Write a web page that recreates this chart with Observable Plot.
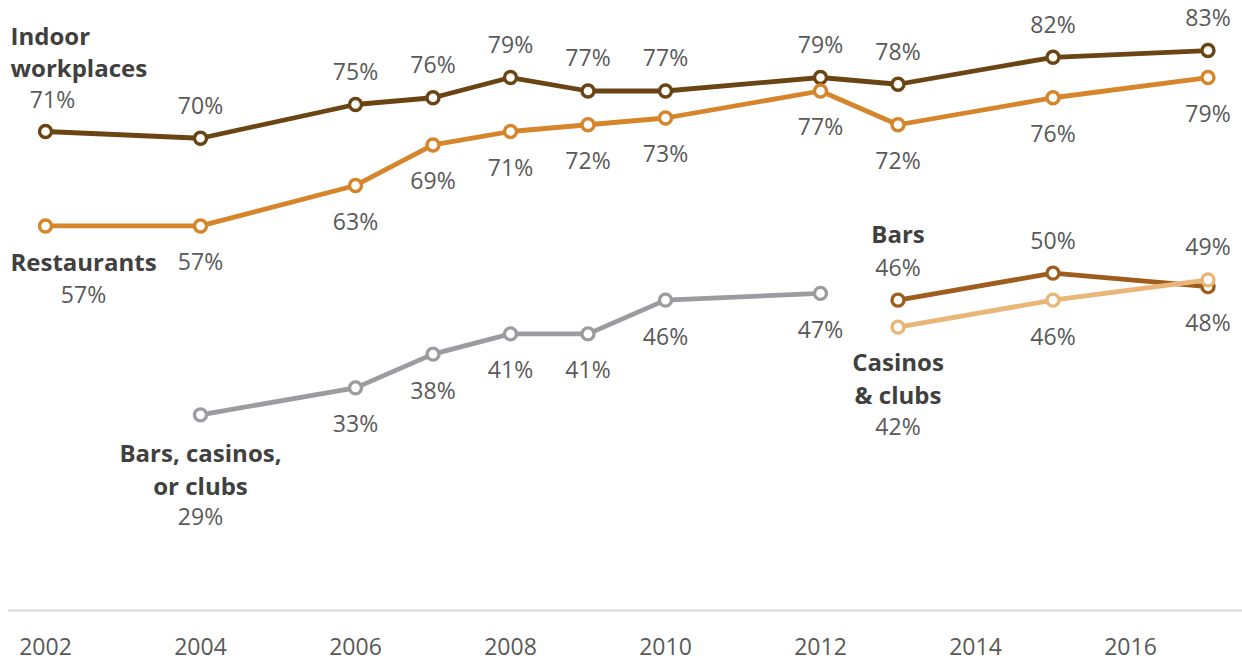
<!DOCTYPE html>
<html>
<head>
<meta charset="utf-8">
<script src="https://cdn.jsdelivr.net/npm/d3@7"></script>
<script src="https://cdn.jsdelivr.net/npm/@observablehq/plot@0.6"></script>
<style>
  html, body { margin: 0; padding: 0; background: #fff; }
  #chart svg { display: block; }
</style>
</head>
<body>
<div id="chart"></div>
<script>
// ---- data ----
const seriesNames = ["Indoor workplaces", "Restaurants", "Bars, casinos, or clubs", "Bars", "Casinos & clubs"];
const seriesColors = ["#6b4413", "#d6852a", "#9d9ba0", "#9e5d1d", "#e9b677"];

const indoorYears = [2002, 2004, 2006, 2007, 2008, 2009, 2010, 2012, 2013, 2015, 2017];
const indoorValues = [71, 70, 75, 76, 79, 77, 77, 79, 78, 82, 83];

const restaurantYears = [2002, 2004, 2006, 2007, 2008, 2009, 2010, 2012, 2013, 2015, 2017];
const restaurantValues = [57, 57, 63, 69, 71, 72, 73, 77, 72, 76, 79];

const barsCasinosClubsYears = [2004, 2006, 2007, 2008, 2009, 2010, 2012];
const barsCasinosClubsValues = [29, 33, 38, 41, 41, 46, 47];

const barsYears = [2013, 2015, 2017];
const barsValues = [46, 50, 48];

const casinosYears = [2013, 2015, 2017];
const casinosValues = [42, 46, 49];

const xTicks = [2002, 2004, 2006, 2008, 2010, 2012, 2014, 2016];

// ---- build table ----
const seriesData = [
  [indoorYears, indoorValues],
  [restaurantYears, restaurantValues],
  [barsCasinosClubsYears, barsCasinosClubsValues],
  [barsYears, barsValues],
  [casinosYears, casinosValues]
];
const rows = [];
seriesData.forEach(([ys, vs], i) => {
  ys.forEach((yr, j) => rows.push({series: seriesNames[i], year: yr, value: vs[j], first: j === 0, last: j === ys.length - 1}));
});

// label placement rules
function isAbove(d) {
  if (d.series === "Indoor workplaces") return true;
  if (d.series === "Bars") return !d.last;
  if (d.series === "Casinos & clubs") return d.last;
  return false;
}
const firstOf = name => rows.filter(d => d.series === name && d.first);
const pct = d => d.value + "%";

const F = "'Open Sans', sans-serif";
const FS = 23;
const NFS = 24;
const valueColor = "#595959";
const nameColor = "#404040";

const normalRows = rows.filter(d => !(d.first && d.series !== "Indoor workplaces" && d.series !== "Bars"));
const aboveRows = normalRows.filter(d => isAbove(d) && !(d.first && d.series === "Indoor workplaces"));
const belowRows = normalRows.filter(d => !isAbove(d));

const chart = Plot.plot({
  width: 1242,
  height: 662,
  marginLeft: 8,
  marginRight: 0,
  marginTop: 3,
  marginBottom: 52,
  style: {fontFamily: F, background: "#fff"},
  x: {domain: [2002, 2017], range: [45, 1207.5], label: null},
  y: {domain: [0, 90], range: [610, 2.8], axis: null},
  color: {domain: seriesNames, range: seriesColors},
  marks: [
    Plot.ruleY([0], {stroke: "#d9d9d9", strokeWidth: 2}),
    Plot.axisX({ticks: xTicks, tickFormat: d => String(d), tickSize: 0, tickPadding: 28, fontSize: FS, color: valueColor, label: null}),
    Plot.line(rows, {x: "year", y: "value", z: "series", stroke: "series", strokeWidth: 4.8}),
    Plot.dot(rows, {x: "year", y: "value", stroke: "series", fill: "white", r: 6, strokeWidth: 3.4}),
    // value labels
    Plot.text(aboveRows, {x: "year", y: "value", text: pct, dy: -32, fontSize: FS, fill: valueColor}),
    Plot.text(belowRows, {x: "year", y: "value", text: pct, dy: 37, fontSize: FS, fill: valueColor}),
    Plot.text(firstOf("Indoor workplaces"), {x: "year", y: "value", text: pct, dx: 7, dy: -31, fontSize: FS, fill: valueColor}),
    Plot.text(firstOf("Restaurants"), {x: "year", y: "value", text: pct, dx: 38, dy: 70, fontSize: FS, fill: valueColor}),
    Plot.text(firstOf("Bars, casinos, or clubs"), {x: "year", y: "value", text: pct, dy: 103, fontSize: FS, fill: valueColor}),
    Plot.text(firstOf("Casinos & clubs"), {x: "year", y: "value", text: pct, dy: 100, fontSize: FS, fill: valueColor}),
    // series names
    Plot.text(firstOf("Indoor workplaces"), {x: "year", y: "value", text: () => "Indoor\nworkplaces", textAnchor: "start", dx: -35, dy: -81, lineHeight: 1.34, fontSize: NFS, fontWeight: "bold", fill: nameColor}),
    Plot.text(firstOf("Restaurants"), {x: "year", y: "value", text: () => "Restaurants", dx: 38, dy: 37, fontSize: NFS, fontWeight: "bold", fill: nameColor}),
    Plot.text(firstOf("Bars, casinos, or clubs"), {x: "year", y: "value", text: () => "Bars, casinos,\nor clubs", dy: 53, lineHeight: 1.37, fontSize: NFS, fontWeight: "bold", fill: nameColor}),
    Plot.text(firstOf("Bars"), {x: "year", y: "value", text: () => "Bars", dy: -65, fontSize: NFS, fontWeight: "bold", fill: nameColor}),
    Plot.text(firstOf("Casinos & clubs"), {x: "year", y: "value", text: () => "Casinos\n& clubs", dy: 50, lineHeight: 1.37, fontSize: NFS, fontWeight: "bold", fill: nameColor})
  ]
});
document.getElementById("chart").appendChild(chart);
</script>
</body>
</html>
